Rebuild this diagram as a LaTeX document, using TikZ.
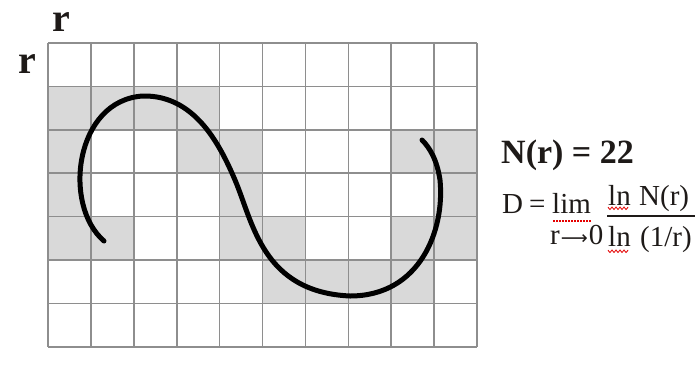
\documentclass[tikz,border=0pt]{standalone}
\usepackage{graphicx}
\usepackage{fontspec}
\setmainfont{Liberation Serif}
\newfontfamily\arrowfont{DejaVu Sans}
\begin{document}
\begin{tikzpicture}[x=1pt,y=-1pt,
  cellshade/.style={fill=shadegray,draw=none},
  gridline/.style={draw=gridgray,line width=1.6pt},
  curveline/.style={line width=5pt,line cap=round,line join=round},
  txt/.style={inner sep=0pt,anchor=base west,text=textdark},
  ftxt/.style={txt,font=\fontsize{29}{29}\selectfont},
  squig/.style={draw=red!90!black,line width=0.8pt}]
\definecolor{shadegray}{HTML}{D9D9D9}
\definecolor{gridgray}{HTML}{8E8E8E}
\definecolor{textdark}{HTML}{1E1A18}
\useasboundingbox[fill=white] (0,0) rectangle (695,378);
% shaded cells
\foreach \c/\r in {0/1,1/1,2/1,3/1,
                   0/2,3/2,4/2,8/2,9/2,
                   0/3,4/3,9/3,
                   0/4,1/4,4/4,5/4,8/4,9/4,
                   5/5,6/5,7/5,8/5}{
  \fill[cellshade] ({48+42.9*\c},{43+43.4*\r}) rectangle ++(42.9,43.4);
}
% grid
\foreach \c in {0,...,10}{
  \draw[gridline] ({48+42.9*\c},43) -- ({48+42.9*\c},{43+43.4*7});
}
\foreach \r in {0,...,7}{
  \draw[gridline] (48,{43+43.4*\r}) -- ({48+42.9*10},{43+43.4*\r});
}
% curve
\coordinate (cs) at (104,241);
\coordinate (ctop) at (143,96);
\coordinate (cmid) at (235,180);
\coordinate (cbot) at (350,296);
\coordinate (cright) at (440,180);
\coordinate (ce) at (422,140);
\draw[curveline] (cs) .. controls (62,205) and (75,100) .. (ctop)
  .. controls (195,95) and (220,145) .. (cmid)
  .. controls (253,222) and (262,292) .. (cbot)
  .. controls (420,296) and (445,230) .. (cright)
  .. controls (437,160) and (430,148) .. (ce);
% r labels
\node[txt,font=\fontsize{40}{40}\selectfont\bfseries] (rtop) at (52,31) {r};
\node[txt,font=\fontsize{40}{40}\selectfont\bfseries] (rleft) at (18,73) {r};
% N(r) = 22
\node[txt,font=\fontsize{34}{34}\selectfont\bfseries] (nr) at (501,163) {N(r) = 22};
% formula
\node[ftxt] (dd) at (502,213) {D};
\node[ftxt] (eq) at (529,213) {=};
\node[ftxt] (lim) at (552,213) {lim};
\node[ftxt] (rto) at (550,244) {r\kern1pt\resizebox{27pt}{!}{\arrowfont ⟶}\kern1pt 0};
\node[ftxt] (numln) at (608,205) {ln};
\node[ftxt] (numnr) at (639,205) {N(r)};
\node[ftxt] (denln) at (608,246) {ln};
\node[ftxt] (denr) at (640,246) {(1/r)};
\coordinate (fl) at (607,216);
\coordinate (fr) at (695,216);
\draw[line width=1.3pt,draw=textdark] (fl) -- (fr);
% spell-check marks
\draw[squig,line width=1.2pt,dash pattern=on 1.5pt off 1.5pt] (553,221) -- (591,221);
\draw[squig] plot[smooth] coordinates {(608,207) (610,209.5) (612,207) (614,209.5) (616,207) (618,209.5) (620,207) (622,209.5) (624,207) (626,209.5) (628,207)};
\draw[squig] plot[smooth] coordinates {(608,250) (610,252.5) (612,250) (614,252.5) (616,250) (618,252.5) (620,250) (622,252.5) (624,250) (626,252.5) (628,250)};
\end{tikzpicture}
\end{document}
